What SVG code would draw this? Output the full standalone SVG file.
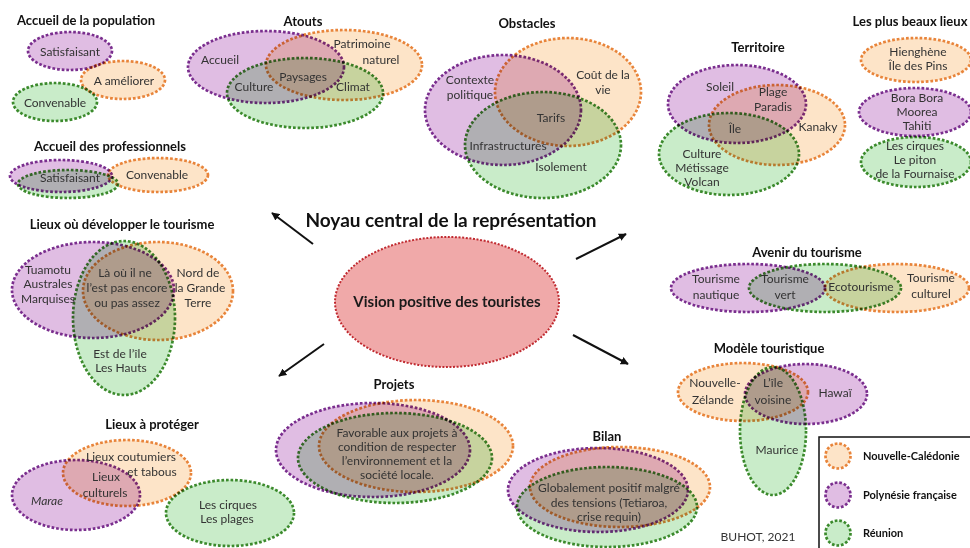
<svg xmlns="http://www.w3.org/2000/svg" width="970" height="548" viewBox="0 0 970 548">
<defs>
<style>
.e{mix-blend-mode:multiply;stroke-width:2.7;stroke-dasharray:2.7 1.9}
.p{fill:#e0bde3;stroke:#7a2e8e}
.o{fill:#fde4c8;stroke:#e8843a}
.g{fill:#c9ecc9;stroke:#3b8a2c}
.t{font-family:Lato,"Liberation Sans",sans-serif;font-size:12px;fill:#333;text-anchor:middle}
.h{font-family:Lato,"Liberation Sans",sans-serif;font-size:13px;font-weight:bold;fill:#111;text-anchor:middle}
.l{font-family:Lato,"Liberation Sans",sans-serif;font-size:11px;font-weight:bold;fill:#111}
.a{stroke:#111;stroke-width:2;fill:none;marker-end:url(#ah)}
</style>
<marker id="ah" viewBox="0 0 10 10" refX="9" refY="5" markerWidth="4" markerHeight="4" orient="auto">
<path d="M0,0 L10,5 L0,10 z" fill="#111"/>
</marker>
</defs>
<rect width="970" height="548" fill="#fff"/>

<g id="accueil-population">
<text class="h" x="86" y="25">Accueil de la population</text>
<ellipse class="e p" cx="70" cy="51" rx="42" ry="19"/>
<ellipse class="e o" cx="123" cy="80" rx="42" ry="19"/>
<ellipse class="e g" cx="55" cy="102" rx="42" ry="19"/>
<text class="t" x="70" y="56">Satisfaisant</text>
<text class="t" x="124" y="85">A améliorer</text>
<text class="t" x="55" y="107">Convenable</text>
</g>

<g id="atouts">
<text class="h" x="303" y="26">Atouts</text>
<ellipse class="e p" cx="266" cy="67" rx="78" ry="36"/>
<ellipse class="e o" cx="344" cy="65" rx="78" ry="35"/>
<ellipse class="e g" cx="305" cy="93" rx="78" ry="35"/>
<text class="t" x="220" y="64">Accueil</text>
<text class="t" x="362" y="48">Patrimoine</text>
<text class="t" x="381" y="64">naturel</text>
<text class="t" x="303" y="81">Paysages</text>
<text class="t" x="254" y="91">Culture</text>
<text class="t" x="353" y="91">Climat</text>
</g>

<g id="obstacles">
<text class="h" x="527" y="28">Obstacles</text>
<ellipse class="e p" cx="503" cy="110" rx="78" ry="55"/>
<ellipse class="e o" cx="568" cy="92" rx="73" ry="54"/>
<ellipse class="e g" cx="543" cy="145" rx="78" ry="53"/>
<text class="t" x="470" y="84">Contexte</text>
<text class="t" x="470" y="99">politique</text>
<text class="t" x="603" y="79">Coût de la</text>
<text class="t" x="603" y="94">vie</text>
<text class="t" x="551" y="122">Tarifs</text>
<text class="t" x="508" y="150">Infrastructures</text>
<text class="t" x="561" y="171">Isolement</text>
</g>

<g id="territoire">
<text class="h" x="758" y="52">Territoire</text>
<ellipse class="e p" cx="737" cy="104" rx="69" ry="39"/>
<ellipse class="e o" cx="777" cy="125" rx="68" ry="40"/>
<ellipse class="e g" cx="729" cy="154" rx="70" ry="41"/>
<text class="t" x="720" y="91">Soleil</text>
<text class="t" x="773" y="96">Plage</text>
<text class="t" x="773" y="111">Paradis</text>
<text class="t" x="818" y="131">Kanaky</text>
<text class="t" x="735" y="133">Île</text>
<text class="t" x="702" y="158">Culture</text>
<text class="t" x="702" y="172">Métissage</text>
<text class="t" x="702" y="186">Volcan</text>
</g>

<g id="plus-beaux-lieux">
<text class="h" x="910" y="26">Les plus beaux lieux</text>
<ellipse class="e o" cx="916" cy="60" rx="55" ry="22"/>
<ellipse class="e p" cx="915" cy="112" rx="56" ry="24"/>
<ellipse class="e g" cx="916" cy="162" rx="55" ry="25"/>
<text class="t" x="918" y="56">Hienghène</text>
<text class="t" x="918" y="70">Île des Pins</text>
<text class="t" x="917" y="102">Bora Bora</text>
<text class="t" x="917" y="116">Moorea</text>
<text class="t" x="917" y="130">Tahiti</text>
<text class="t" x="915" y="150">Les cirques</text>
<text class="t" x="915" y="164">Le piton</text>
<text class="t" x="915" y="178">de la Fournaise</text>
</g>

<g id="accueil-professionnels">
<text class="h" x="110" y="151">Accueil des professionnels</text>
<ellipse class="e p" cx="61" cy="176" rx="51" ry="16"/>
<ellipse class="e g" cx="68" cy="184" rx="50" ry="14"/>
<ellipse class="e o" cx="158" cy="175" rx="50" ry="17"/>
<text class="t" x="70" y="182">Satisfaisant</text>
<text class="t" x="157" y="179">Convenable</text>
</g>

<g id="lieux-developper">
<text class="h" x="122" y="229">Lieux où développer le tourisme</text>
<ellipse class="e p" cx="93" cy="290" rx="81" ry="48"/>
<ellipse class="e o" cx="158" cy="291" rx="75" ry="49"/>
<ellipse class="e g" cx="124" cy="318" rx="51" ry="77"/>
<text class="t" x="48" y="274">Tuamotu</text>
<text class="t" x="48" y="288">Australes</text>
<text class="t" x="48" y="303">Marquises</text>
<text class="t" x="125" y="277">Là où il ne</text>
<text class="t" x="127" y="292">l’est pas encore</text>
<text class="t" x="127" y="307">ou pas assez</text>
<text class="t" x="198" y="277">Nord de</text>
<text class="t" x="200" y="292">la Grande</text>
<text class="t" x="198" y="307">Terre</text>
<text class="t" x="120" y="358">Est de l’île</text>
<text class="t" x="121" y="372">Les Hauts</text>
</g>

<g id="noyau-central">
<text x="451" y="227" style="font-family:Lato,'Liberation Sans',sans-serif;font-size:19px;font-weight:bold;fill:#111;text-anchor:middle">Noyau central de la représentation</text>
<ellipse cx="447" cy="302" rx="112" ry="65" fill="#f0a9a9" stroke="#c02a30" stroke-width="2" stroke-dasharray="2 1.6"/>
<text x="447" y="307" style="font-family:Lato,'Liberation Sans',sans-serif;font-size:15px;font-weight:bold;fill:#1a1a1a;text-anchor:middle">Vision positive des touristes</text>
</g>

<g id="connectors">
<line class="a" x1="313" y1="244" x2="272" y2="213"/>
<line class="a" x1="576" y1="259" x2="626" y2="234"/>
<line class="a" x1="324" y1="344" x2="279" y2="376"/>
<line class="a" x1="573" y1="335" x2="628" y2="364"/>
</g>

<g id="avenir-tourisme">
<text class="h" x="807" y="257">Avenir du tourisme</text>
<ellipse class="e p" cx="748" cy="288" rx="77" ry="24"/>
<ellipse class="e g" cx="825" cy="288" rx="76" ry="24"/>
<ellipse class="e o" cx="897" cy="288" rx="72" ry="24"/>
<text class="t" x="716" y="283">Tourisme</text>
<text class="t" x="716" y="299">nautique</text>
<text class="t" x="785" y="283">Tourisme</text>
<text class="t" x="785" y="299">vert</text>
<text class="t" x="861" y="291">Ecotourisme</text>
<text class="t" x="931" y="282">Tourisme</text>
<text class="t" x="931" y="298">culturel</text>
</g>

<g id="modele-touristique">
<text class="h" x="769" y="353">Modèle touristique</text>
<ellipse class="e o" cx="743" cy="392" rx="65" ry="29"/>
<ellipse class="e p" cx="806" cy="394" rx="61" ry="30"/>
<ellipse class="e g" cx="773" cy="431" rx="33" ry="64"/>
<text class="t" x="715" y="387">Nouvelle-</text>
<text class="t" x="713" y="404">Zélande</text>
<text class="t" x="773" y="387">L’île</text>
<text class="t" x="773" y="404">voisine</text>
<text class="t" x="835" y="397">Hawaï</text>
<text class="t" x="777" y="454">Maurice</text>
</g>

<g id="lieux-proteger">
<text class="h" x="152" y="429">Lieux à protéger</text>
<ellipse class="e o" cx="127" cy="473" rx="64" ry="33"/>
<ellipse class="e p" cx="76" cy="495" rx="64" ry="35"/>
<ellipse class="e g" cx="230" cy="513" rx="64" ry="33"/>
<text class="t" x="131" y="461">Lieux coutumiers</text>
<text class="t" x="152" y="476">et tabous</text>
<text class="t" x="106" y="481">Lieux</text>
<text class="t" x="105" y="497">culturels</text>
<text class="t" x="47" y="505" font-style="italic">Marae</text>
<text class="t" x="228" y="509">Les cirques</text>
<text class="t" x="227" y="523">Les plages</text>
</g>

<g id="projets">
<text class="h" x="394" y="389">Projets</text>
<ellipse class="e p" cx="373" cy="450" rx="97" ry="47"/>
<ellipse class="e o" cx="416" cy="446" rx="97" ry="46"/>
<ellipse class="e g" cx="395" cy="458" rx="97" ry="45"/>
<text class="t" x="397" y="437">Favorable aux projets à</text>
<text class="t" x="397" y="451">condition de respecter</text>
<text class="t" x="397" y="465">l’environnement et la</text>
<text class="t" x="397" y="479">société locale.</text>
</g>

<g id="bilan">
<text class="h" x="607" y="441">Bilan</text>
<ellipse class="e p" cx="598" cy="490" rx="90" ry="42"/>
<ellipse class="e o" cx="620" cy="487" rx="90" ry="40"/>
<ellipse class="e g" cx="607" cy="507" rx="90" ry="40"/>
<text class="t" x="609" y="492">Globalement positif malgré</text>
<text class="t" x="609" y="507">des tensions (Tetiaroa,</text>
<text class="t" x="609" y="521">crise requin)</text>
</g>

<g id="legende">
<rect x="819" y="437" width="160" height="120" fill="#fff" stroke="#111" stroke-width="1.5"/>
<circle class="e o" cx="838" cy="456" r="12.5"/>
<circle class="e p" cx="838" cy="495" r="12.5"/>
<circle class="e g" cx="838" cy="533" r="12.5"/>
<text class="l" x="863" y="460">Nouvelle-Calédonie</text>
<text class="l" x="863" y="499">Polynésie française</text>
<text class="l" x="863" y="537">Réunion</text>
</g>

<g id="credit">
<text class="t" x="758" y="541">BUHOT, 2021</text>
</g>
</svg>
